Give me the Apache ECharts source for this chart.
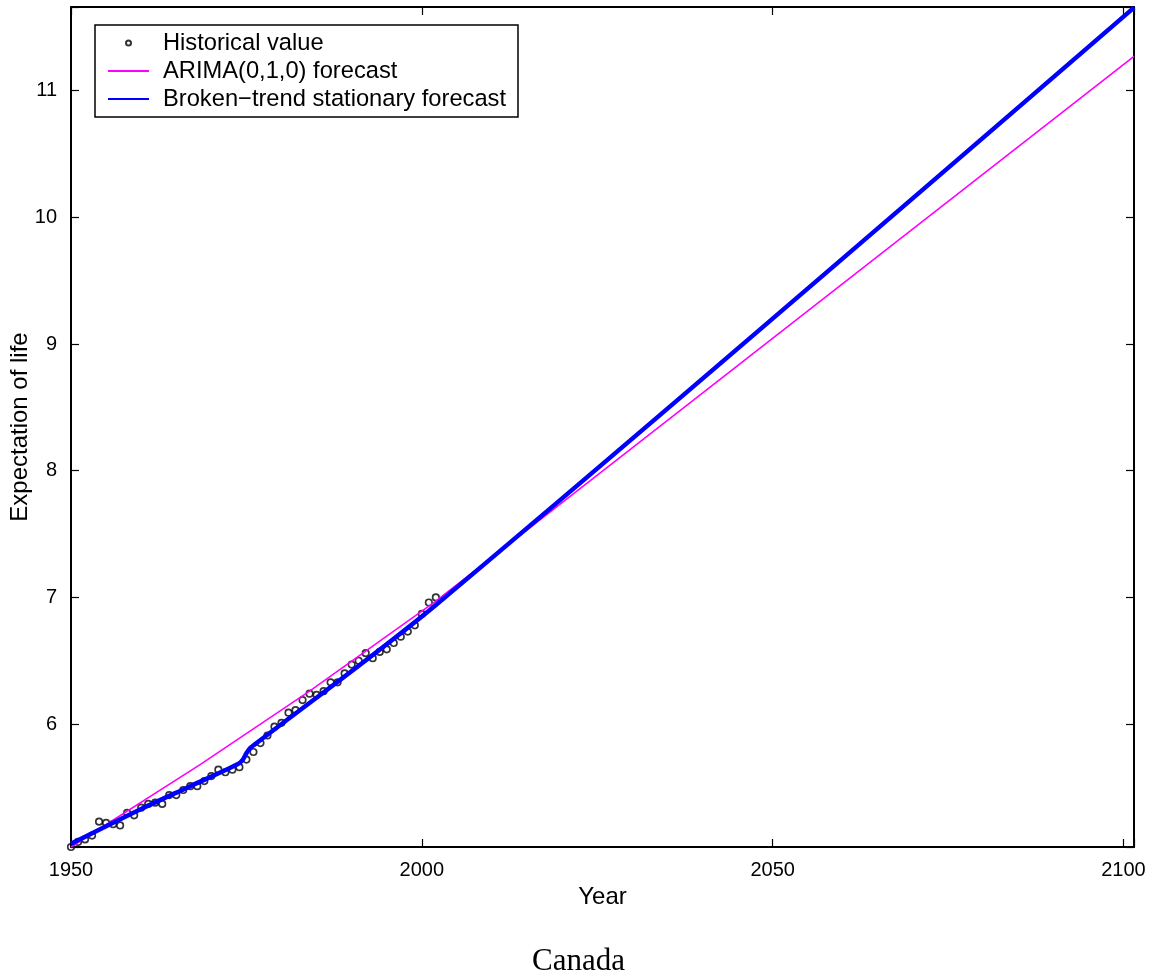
<!DOCTYPE html>
<html>
<head>
<meta charset="utf-8">
<script src="https://cdn.jsdelivr.net/npm/echarts@6/dist/echarts.min.js"></script>
<style>
  html, body { margin: 0; padding: 0; background: #ffffff; }
  #chart { width: 1157px; height: 978px; }
</style>
</head>
<body>
<div id="chart"></div>
<script>
// Observed series, 1950-2002
const histYears = [
  1950, 1951, 1952, 1953, 1954, 1955, 1956, 1957, 1958, 1959,
  1960, 1961, 1962, 1963, 1964, 1965, 1966, 1967, 1968, 1969,
  1970, 1971, 1972, 1973, 1974, 1975, 1976, 1977, 1978, 1979,
  1980, 1981, 1982, 1983, 1984, 1985, 1986, 1987, 1988, 1989,
  1990, 1991, 1992, 1993, 1994, 1995, 1996, 1997, 1998, 1999,
  2000, 2001, 2002
];
const histValues = [
  5.03, 5.07, 5.09, 5.12, 5.23, 5.22, 5.21, 5.20, 5.30, 5.28,
  5.34, 5.37, 5.38, 5.37, 5.44, 5.44, 5.48, 5.51, 5.51, 5.55,
  5.59, 5.64, 5.62, 5.64, 5.66, 5.72, 5.78, 5.85, 5.91, 5.98,
  6.01, 6.09, 6.11, 6.19, 6.24, 6.23, 6.26, 6.33, 6.33, 6.40,
  6.47, 6.50, 6.56, 6.52, 6.57, 6.59, 6.64, 6.69, 6.73, 6.78,
  6.87, 6.96, 7.00
];

// ARIMA(0,1,0): fitted path and forecast
const arimaYears  = [1950, 1968.4, 1984, 2002, 2101.5];
const arimaValues = [5.03, 5.68, 6.26, 6.97, 11.27];

// Broken-trend stationary model: fitted path and forecast
const trendYears  = [1950, 1960, 1967, 1973.8, 1974.5, 1975.0, 1975.5, 1976.2, 2002, 2101.5];
const trendValues = [5.055, 5.33, 5.51, 5.685, 5.72, 5.77, 5.81, 5.84, 6.94, 11.655];

// Tick labels
const xTickLabels = [1950, 2000, 2050, 2100];
const yTickLabels = [6, 7, 8, 9, 10, 11];

const pairs = (xs, ys) => xs.map((x, i) => [x, ys[i]]);

const SANS = '"Liberation Sans", Arial, Helvetica, sans-serif';

const chart = echarts.init(document.getElementById('chart'), null, { renderer: 'canvas' });

const axisLine = { show: true, onZero: false, lineStyle: { color: '#000', width: 2 } };
const axisTick = { show: true, inside: true, length: 8, lineStyle: { color: '#000', width: 1.2 } };

const xBase = {
  type: 'value', min: 1950, max: 2101.5, interval: 50,
  axisLine: axisLine, axisTick: axisTick, splitLine: { show: false }
};
const yBase = {
  type: 'value', min: 5.03, max: 11.66,
  axisLine: axisLine, axisTick: axisTick, splitLine: { show: false }
};

chart.setOption({
  animation: false,
  backgroundColor: '#ffffff',
  title: {
    text: 'Canada',
    left: 'center',
    top: 941,
    textStyle: { fontFamily: '"Liberation Serif", "Times New Roman", serif', fontSize: 31, fontWeight: 'normal', color: '#000' }
  },
  grid: { left: 71, top: 7, width: 1063, height: 840, containLabel: false, outerBoundsMode: 'none' },
  legend: {
    orient: 'vertical',
    left: 95,
    top: 25,
    backgroundColor: '#fff',
    borderColor: '#000',
    borderWidth: 1.5,
    padding: [6, 12, 6, 12],
    itemWidth: 41,
    itemHeight: 5,
    itemGap: 4,
    textStyle: { fontFamily: SANS, fontSize: 23.7, color: '#000', padding: [0, 0, 0, 9] },
    data: [
      { name: 'Historical value' },
      { name: 'ARIMA(0,1,0) forecast', itemStyle: { opacity: 0 } },
      { name: 'Broken\u2212trend stationary forecast', itemStyle: { opacity: 0 } }
    ]
  },
  xAxis: [
    Object.assign({}, xBase, {
      position: 'bottom',
      name: 'Year', nameLocation: 'middle', nameGap: 38, nameMoveOverlap: false,
      nameTextStyle: { fontFamily: SANS, fontSize: 24, color: '#000' },
      axisLabel: {
        color: '#000', fontFamily: SANS, fontSize: 20, margin: 13,
        formatter: v => (xTickLabels.indexOf(v) >= 0 ? String(v) : '')
      }
    }),
    Object.assign({}, xBase, { position: 'top', axisLabel: { show: false } })
  ],
  yAxis: [
    Object.assign({}, yBase, {
      position: 'left',
      name: 'Expectation of life', nameLocation: 'middle', nameGap: 39, nameMoveOverlap: false,
      nameTextStyle: { fontFamily: SANS, fontSize: 24, color: '#000' },
      axisLabel: {
        color: '#000', fontFamily: SANS, fontSize: 20, margin: 14,
        formatter: v => (yTickLabels.indexOf(Math.round(v * 1000) / 1000) >= 0 ? String(Math.round(v)) : '')
      }
    }),
    Object.assign({}, yBase, { position: 'right', axisLabel: { show: false } })
  ],
  series: [
    {
      name: 'Historical value',
      type: 'scatter',
      xAxisIndex: 0, yAxisIndex: 0,
      symbol: 'circle',
      symbolSize: 6.5,
      itemStyle: { color: 'rgba(0,0,0,0)', borderColor: '#000', borderWidth: 1.7 },
      z: 2,
      data: pairs(histYears, histValues)
    },
    {
      name: 'ARIMA(0,1,0) forecast',
      type: 'line',
      xAxisIndex: 0, yAxisIndex: 0,
      symbol: 'none',
      lineStyle: { color: '#ff00ff', width: 1.6 },
      itemStyle: { color: '#ff00ff' },
      z: 3,
      data: pairs(arimaYears, arimaValues)
    },
    {
      name: 'Broken\u2212trend stationary forecast',
      type: 'line',
      xAxisIndex: 0, yAxisIndex: 0,
      symbol: 'none',
      smooth: 0.3,
      lineStyle: { color: '#0000ff', width: 4.5 },
      itemStyle: { color: '#0000ff' },
      z: 4,
      data: pairs(trendYears, trendValues)
    }
  ]
});
</script>
</body>
</html>
